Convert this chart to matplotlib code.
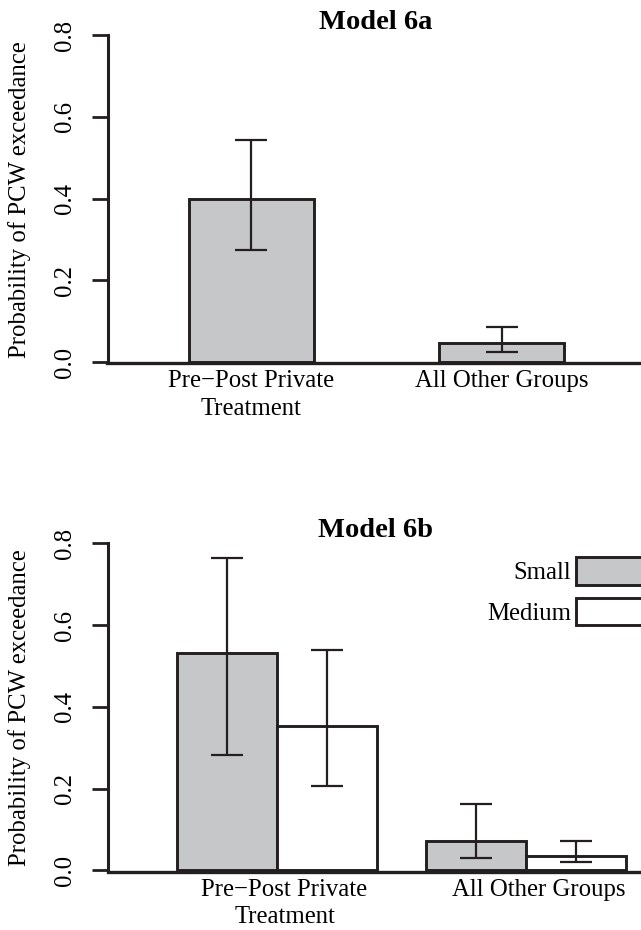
import matplotlib
matplotlib.use('Agg')
import matplotlib.pyplot as plt
import numpy as np
from matplotlib.patches import Patch

plt.rcParams['font.family'] = ['Liberation Serif', 'DejaVu Serif']

# Model 6a
groups_a = ['Pre\u2212Post Private\nTreatment', 'All Other Groups']
prob_a = [0.40, 0.046]
lo_a = [0.275, 0.024]
hi_a = [0.543, 0.087]

# Model 6b
groups_b = ['Pre\u2212Post Private\nTreatment', 'All Other Groups']
sizes = ['Small', 'Medium']
prob_small = [0.531, 0.073]
lo_small = [0.283, 0.030]
hi_small = [0.765, 0.163]
prob_medium = [0.354, 0.036]
lo_medium = [0.207, 0.020]
hi_medium = [0.538, 0.071]

yticks = [0.0, 0.2, 0.4, 0.6, 0.8]

gray = '#c6c7c9'
ink = '#231f20'
fs = 17.8

fig = plt.figure(figsize=(6.41, 9.30), dpi=100)
W, H = 641.0, 930.0


def make_axes(top_px, bottom_px):
    ax = fig.add_axes([107.5 / W, 1 - bottom_px / H, 1 - 107.5 / W, (bottom_px - top_px) / H])
    ax.set_ylim(-0.003, 0.8)
    for s in ['top', 'right']:
        ax.spines[s].set_visible(False)
    ax.spines['left'].set_bounds(0, 0.8)
    ax.spines['left'].set_linewidth(2.2)
    ax.spines['bottom'].set_linewidth(2.4)
    ax.spines['left'].set_color(ink)
    ax.spines['bottom'].set_color(ink)
    ax.set_yticks(yticks)
    ax.set_yticklabels(['%.1f' % v for v in yticks])
    ax.tick_params(axis='y', length=11.5, width=2.0, color=ink, pad=11,
                   labelsize=fs, labelrotation=90)
    for lab in ax.get_yticklabels():
        lab.set_va('center')
    ax.tick_params(axis='x', length=0, pad=5, labelsize=fs)
    ax.set_ylabel('Probability of PCW exceedance', fontsize=fs)
    ax.yaxis.set_label_coords(-0.143, 0.5)
    return ax


def errbars(ax, x, val, lo, hi):
    val = np.array(val)
    yerr = [val - np.array(lo), np.array(hi) - val]
    ax.errorbar(x, val, yerr=yerr, fmt='none', ecolor=ink, elinewidth=1.6,
                capsize=11.5, capthick=1.6, zorder=4)


def cat_labels(ax):
    for lab in ax.get_xticklabels():
        lab.set_linespacing(1.32)


# top panel
ax1 = make_axes(35, 363.3)
xa = np.arange(len(groups_a))
ax1.bar(xa, prob_a, width=0.5, color=gray, edgecolor=ink, linewidth=2.1, zorder=3)
errbars(ax1, xa, prob_a, lo_a, hi_a)
ax1.set_xlim(-0.576, 1.558)
ax1.set_xticks(xa)
ax1.set_xticklabels(groups_a)
cat_labels(ax1)
ax1.set_title('Model 6a', fontsize=20.5, fontweight='bold', pad=0.5, x=0.503)

# bottom panel
ax2 = make_axes(543.3, 871.7)
xb = np.arange(len(groups_b))
w = 0.4
ax2.bar(xb - w / 2, prob_small, width=w, color=gray, edgecolor=ink, linewidth=2.1, zorder=3)
ax2.bar(xb + w / 2, prob_medium, width=w, color='white', edgecolor=ink, linewidth=2.1, zorder=3)
errbars(ax2, xb - w / 2, prob_small, lo_small, hi_small)
errbars(ax2, xb + w / 2, prob_medium, lo_medium, hi_medium)
ax2.set_xlim(-0.681, 1.462)
ax2.set_xticks(xb + np.array([0.03, 0.05]))
ax2.set_xticklabels(groups_b)
cat_labels(ax2)
ax2.set_title('Model 6b', fontsize=20.5, fontweight='bold', pad=0.5, x=0.503)

handles = [Patch(facecolor=gray, edgecolor=ink, linewidth=2.1),
           Patch(facecolor='white', edgecolor=ink, linewidth=2.1)]
ax2.legend(handles, sizes, loc='upper right', bbox_to_anchor=(1.045, 0.958),
           frameon=False, fontsize=fs, markerfirst=False, borderpad=0,
           borderaxespad=0, handlelength=3.6, handleheight=1.35,
           handletextpad=0.2, labelspacing=0.52)

fig.savefig('out.png', dpi=100)
